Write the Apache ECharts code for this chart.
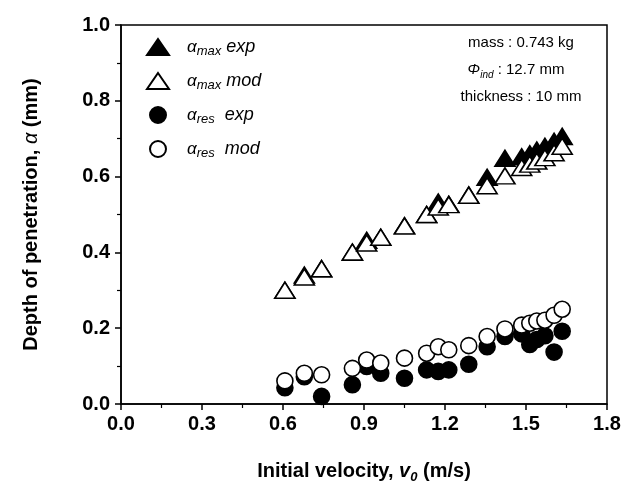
<!DOCTYPE html>
<html>
<head>
<meta charset="utf-8">
<script src="https://cdn.jsdelivr.net/npm/echarts@6/dist/echarts.min.js"></script>
<style>html,body{margin:0;padding:0;background:#fff}#c{width:627px;height:489px}</style>
</head>
<body>
<div id="c"></div>
<script>
// Data
var velocity = [0.607, 0.679, 0.743, 0.857, 0.910, 0.962, 1.050, 1.132, 1.175, 1.214, 1.288, 1.356, 1.422, 1.484, 1.514, 1.540, 1.570, 1.604, 1.634];
var alphaMaxExp = [0.300, 0.340, 0.357, 0.400, 0.432, 0.440, 0.470, 0.500, 0.533, 0.527, 0.551, 0.598, 0.648, 0.652, 0.660, 0.670, 0.680, 0.693, 0.706];
var alphaMaxMod = [0.300, 0.335, 0.357, 0.401, 0.425, 0.440, 0.470, 0.500, 0.520, 0.526, 0.551, 0.576, 0.602, 0.624, 0.633, 0.641, 0.650, 0.663, 0.680];
var alphaResExp = [0.043, 0.072, 0.020, 0.051, 0.099, 0.081, 0.068, 0.090, 0.086, 0.090, 0.105, 0.151, 0.178, 0.185, 0.157, 0.170, 0.180, 0.137, 0.192];
var alphaResMod = [0.061, 0.081, 0.077, 0.094, 0.116, 0.108, 0.121, 0.134, 0.151, 0.143, 0.154, 0.178, 0.198, 0.208, 0.213, 0.219, 0.221, 0.234, 0.250];
var xTicks = [0.0, 0.3, 0.6, 0.9, 1.2, 1.5, 1.8];
var yTicks = [0.0, 0.2, 0.4, 0.6, 0.8, 1.0];
var seriesNames = ['maxExp', 'maxMod', 'resExp', 'resMod'];

var FONT = "'Liberation Sans', Arial, sans-serif";

function pairs(xs, ys) {
  return xs.map(function (x, i) { return [x, ys[i]]; });
}

var chart = echarts.init(document.getElementById('c'), null, {renderer: 'canvas'});

var legendLabels = {
  maxExp: '{a|α}{s|max}{t| exp}',
  maxMod: '{a|α}{s|max}{t| mod}',
  resExp: '{a|α}{s|res}{t|  exp}',
  resMod: '{a|α}{s|res}{t|  mod}'
};

function scatter(name, data, symbol, size, filled) {
  return {
    name: name,
    type: 'scatter',
    data: data,
    symbol: symbol,
    symbolSize: size,
    itemStyle: {
      color: filled ? '#000' : '#fff',
      borderColor: '#000',
      borderWidth: 1.6,
      opacity: 1
    },
    emphasis: {disabled: true}
  };
}

var option = {
  animation: false,
  backgroundColor: '#fff',
  grid: {
    left: 121, right: 20, top: 25, bottom: 83,
    show: true, borderColor: '#000', borderWidth: 1.5, backgroundColor: 'transparent'
  },
  legend: {
    orient: 'vertical',
    left: 141, top: 33,
    itemWidth: 22, itemHeight: 16, itemGap: 14,
    selectedMode: false,
    data: seriesNames,
    formatter: function (n) { return legendLabels[n]; },
    textStyle: {
      fontFamily: FONT,
      rich: {
        a: {fontSize: 17, fontStyle: 'italic', lineHeight: 22, padding: [0, 0, 0, 13], fontFamily: FONT, color: '#000'},
        s: {fontSize: 13, fontStyle: 'italic', lineHeight: 11, verticalAlign: 'bottom', fontFamily: FONT, color: '#000'},
        t: {fontSize: 18, fontStyle: 'italic', lineHeight: 22, fontFamily: FONT, color: '#000'}
      }
    }
  },
  xAxis: {
    type: 'value',
    min: xTicks[0], max: xTicks[xTicks.length - 1], interval: 0.3,
    name: '{b|Initial velocity, }{v|v}{sub|0}{b| (m/s)}',
    nameLocation: 'middle', nameGap: 54,
    nameTextStyle: {
      rich: {
        b: {fontFamily: FONT, fontWeight: 'bold', fontSize: 20, lineHeight: 26, color: '#000'},
        v: {fontFamily: FONT, fontWeight: 'bold', fontStyle: 'italic', fontSize: 20, lineHeight: 26, color: '#000'},
        sub: {fontFamily: FONT, fontWeight: 'bold', fontStyle: 'italic', fontSize: 13, lineHeight: 13, verticalAlign: 'bottom', color: '#000'}
      }
    },
    axisLine: {show: true, onZero: false, lineStyle: {color: '#000', width: 1.5}},
    axisTick: {show: true, inside: false, length: 6, lineStyle: {color: '#000', width: 1.5}},
    minorTick: {show: true, splitNumber: 2, length: 4, lineStyle: {color: '#000', width: 1.2}},
    splitLine: {show: false},
    axisLabel: {
      margin: 10, color: '#000', fontFamily: FONT, fontWeight: 'bold', fontSize: 20,
      formatter: function (v) { return v.toFixed(1); }
    }
  },
  yAxis: {
    type: 'value',
    min: yTicks[0], max: yTicks[yTicks.length - 1], interval: 0.2,
    name: '{b|Depth of penetration, }{a|α}{b| (mm)}',
    nameLocation: 'middle', nameGap: 78,
    nameTextStyle: {
      rich: {
        b: {fontFamily: FONT, fontWeight: 'bold', fontSize: 20, lineHeight: 24, color: '#000'},
        a: {fontFamily: FONT, fontStyle: 'italic', fontSize: 20, lineHeight: 24, color: '#000'}
      }
    },
    axisLine: {show: true, onZero: false, lineStyle: {color: '#000', width: 1.5}},
    axisTick: {show: true, inside: false, length: 6, lineStyle: {color: '#000', width: 1.5}},
    minorTick: {show: true, splitNumber: 2, length: 4, lineStyle: {color: '#000', width: 1.2}},
    splitLine: {show: false},
    axisLabel: {
      margin: 11, color: '#000', fontFamily: FONT, fontWeight: 'bold', fontSize: 20,
      formatter: function (v) { return v.toFixed(1); }
    }
  },
  graphic: [
    {type: 'text', x: 521, y: 43, style: {text: 'mass : 0.743 kg', font: '15px ' + FONT, fill: '#000', textAlign: 'center', textVerticalAlign: 'middle'}},
    {type: 'text', x: 516, y: 70, style: {
      text: '{p|Φ}{i|ind}{n| : 12.7 mm}', textAlign: 'center', textVerticalAlign: 'middle',
      rich: {
        p: {fontFamily: FONT, fontStyle: 'italic', fontSize: 15, lineHeight: 20, fill: '#000'},
        i: {fontFamily: FONT, fontStyle: 'italic', fontSize: 10, lineHeight: 10, verticalAlign: 'bottom', fill: '#000'},
        n: {fontFamily: FONT, fontSize: 15, lineHeight: 20, fill: '#000'}
      }
    }},
    {type: 'text', x: 521, y: 97, style: {text: 'thickness : 10 mm', font: '15px ' + FONT, fill: '#000', textAlign: 'center', textVerticalAlign: 'middle'}}
  ],
  series: [
    scatter('maxExp', pairs(velocity, alphaMaxExp), 'triangle', [20, 16], true),
    scatter('maxMod', pairs(velocity, alphaMaxMod), 'triangle', [20, 16], false),
    scatter('resExp', pairs(velocity, alphaResExp), 'circle', 16, true),
    scatter('resMod', pairs(velocity, alphaResMod), 'circle', 16, false)
  ]
};
chart.setOption(option);
</script>
</body>
</html>
